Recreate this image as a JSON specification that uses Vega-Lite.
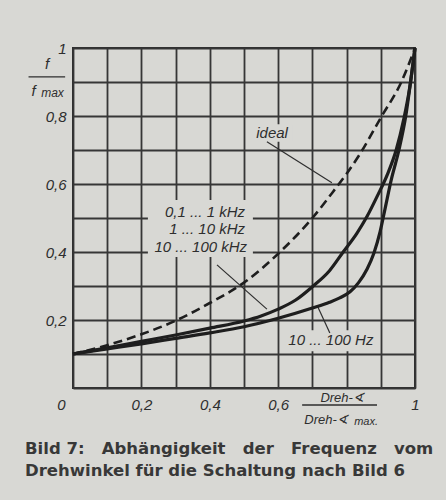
{
  "$schema": "https://vega.github.io/schema/vega-lite/v6.json",
  "autosize": {"type": "none"},
  "width": 342,
  "height": 340,
  "padding": {"left": 73, "top": 48, "right": 31, "bottom": 112},
  "background": "#d8d8d4",
  "config": {
    "view": {"stroke": "#2e2e2e", "strokeWidth": 2, "fill": "#d8d8d4"},
    "font": "Liberation Sans",
    "axis": {
      "grid": true, "gridColor": "#363636", "gridWidth": 1.8, "gridOpacity": 1,
      "ticks": false, "domain": false, "labelFont": "Liberation Sans", "labelFontStyle": "italic",
      "labelFontSize": 15, "labelColor": "#2e2e2e", "labelOverlap": false, "labelBound": false, "labelFlush": false, "title": null
    }
  },
  "title": {
    "text": ["Bild 7:\u00a0\u00a0 Abhängigkeit\u00a0\u00a0 der\u00a0\u00a0 Frequenz\u00a0\u00a0 vom", "Drehwinkel für die Schaltung nach Bild 6"],
    "orient": "bottom", "anchor": "start", "frame": "group", "font": "DejaVu Sans", "fontWeight": "bold",
    "fontSize": 16.5, "color": "#383838", "lineHeight": 22, "offset": 14, "dx": -48
  },
  "datasets": {
    "curves": [
      {"s": "ideal", "x": 0, "y": 0.1}, {"s": "ideal", "x": 0.1, "y": 0.126}, {"s": "ideal", "x": 0.2, "y": 0.158},
      {"s": "ideal", "x": 0.3, "y": 0.198}, {"s": "ideal", "x": 0.4, "y": 0.25}, {"s": "ideal", "x": 0.5, "y": 0.31},
      {"s": "ideal", "x": 0.6, "y": 0.395}, {"s": "ideal", "x": 0.7, "y": 0.5}, {"s": "ideal", "x": 0.77, "y": 0.59},
      {"s": "ideal", "x": 0.8, "y": 0.63}, {"s": "ideal", "x": 0.84, "y": 0.69}, {"s": "ideal", "x": 0.9, "y": 0.795},
      {"s": "ideal", "x": 0.96, "y": 0.9}, {"s": "ideal", "x": 1.0, "y": 1.0},
      {"s": "khz", "x": 0, "y": 0.1}, {"s": "khz", "x": 0.1, "y": 0.118}, {"s": "khz", "x": 0.2, "y": 0.137},
      {"s": "khz", "x": 0.3, "y": 0.156}, {"s": "khz", "x": 0.4, "y": 0.176}, {"s": "khz", "x": 0.5, "y": 0.197},
      {"s": "khz", "x": 0.55, "y": 0.212}, {"s": "khz", "x": 0.6, "y": 0.232}, {"s": "khz", "x": 0.65, "y": 0.258},
      {"s": "khz", "x": 0.7, "y": 0.298}, {"s": "khz", "x": 0.75, "y": 0.345}, {"s": "khz", "x": 0.79, "y": 0.4},
      {"s": "khz", "x": 0.83, "y": 0.455}, {"s": "khz", "x": 0.86, "y": 0.505}, {"s": "khz", "x": 0.89, "y": 0.565},
      {"s": "khz", "x": 0.92, "y": 0.63}, {"s": "khz", "x": 0.945, "y": 0.7}, {"s": "khz", "x": 0.967, "y": 0.79},
      {"s": "khz", "x": 0.984, "y": 0.88}, {"s": "khz", "x": 1.0, "y": 1.0},
      {"s": "hz", "x": 0, "y": 0.1}, {"s": "hz", "x": 0.1, "y": 0.115}, {"s": "hz", "x": 0.2, "y": 0.13},
      {"s": "hz", "x": 0.3, "y": 0.146}, {"s": "hz", "x": 0.4, "y": 0.162}, {"s": "hz", "x": 0.5, "y": 0.18},
      {"s": "hz", "x": 0.6, "y": 0.205}, {"s": "hz", "x": 0.7, "y": 0.235}, {"s": "hz", "x": 0.75, "y": 0.252},
      {"s": "hz", "x": 0.78, "y": 0.265}, {"s": "hz", "x": 0.81, "y": 0.283}, {"s": "hz", "x": 0.835, "y": 0.31},
      {"s": "hz", "x": 0.86, "y": 0.35}, {"s": "hz", "x": 0.88, "y": 0.397}, {"s": "hz", "x": 0.898, "y": 0.46},
      {"s": "hz", "x": 0.913, "y": 0.53}, {"s": "hz", "x": 0.93, "y": 0.61}, {"s": "hz", "x": 0.953, "y": 0.7},
      {"s": "hz", "x": 0.973, "y": 0.8}, {"s": "hz", "x": 0.987, "y": 0.9}, {"s": "hz", "x": 1.0, "y": 1.0}
    ],
    "boxes": [
      {"x": 0.219, "x2": 0.526, "y": 0.385, "y2": 0.553},
      {"x": 0.63, "x2": 0.885, "y": 0.108, "y2": 0.17},
      {"x": 0.518, "x2": 0.643, "y": 0.724, "y2": 0.776}
    ],
    "leaders": [
      {"id": "a", "x": 0.567, "y": 0.724}, {"id": "a", "x": 0.757, "y": 0.604},
      {"id": "b", "x": 0.421, "y": 0.362}, {"id": "b", "x": 0.567, "y": 0.232},
      {"id": "c", "x": 0.716, "y": 0.238}, {"id": "c", "x": 0.751, "y": 0.162}
    ],
    "fracs": [
      {"id": "f", "x": -0.13, "x2": -0.023, "y": 0.915},
      {"id": "d", "x": 0.67, "x2": 0.889, "y": -0.05}
    ],
    "rlabels": [
      {"t": "0,1 ...  1 kHz", "x": 0.503, "y": 0.518},
      {"t": "1 ... 10 kHz", "x": 0.503, "y": 0.468},
      {"t": "10 ... 100 kHz", "x": 0.509, "y": 0.415}
    ],
    "labels": [
      {"t": "ideal", "x": 0.582, "y": 0.75, "fs": 15},
      {"t": "10 ... 100 Hz", "x": 0.754, "y": 0.141, "fs": 15},
      {"t": "f", "x": -0.076, "y": 0.952, "fs": 15},
      {"t": "f", "x": -0.115, "y": 0.874, "fs": 15},
      {"t": "max", "x": -0.06, "y": 0.868, "fs": 12},
      {"t": "Dreh-∢", "x": 0.787, "y": -0.029, "fs": 13},
      {"t": "Dreh-∢", "x": 0.74, "y": -0.093, "fs": 13},
      {"t": "max.", "x": 0.857, "y": -0.1, "fs": 11}
    ]
  },
  "encoding": {
    "x": {
      "field": "x", "type": "quantitative",
      "scale": {"domain": [0, 1], "nice": false, "zero": false},
      "axis": {
        "values": [0, 0.1, 0.2, 0.3, 0.4, 0.5, 0.6, 0.7, 0.8, 0.9, 1],
        "labelPadding": 9,
        "labelOffset": {"condition": {"test": "datum.value == 0", "value": -12}, "value": 0},
        "labelExpr": "datum.value == 1 ? '1' : (datum.value == 0 ? '0' : ((datum.value == 0.2 || datum.value == 0.4 || datum.value == 0.6) ? replace(format(datum.value, '.1f'), '.', ',') : ''))"
      }
    },
    "y": {
      "field": "y", "type": "quantitative",
      "scale": {"domain": [0, 1], "nice": false, "zero": false},
      "axis": {
        "values": [0, 0.1, 0.2, 0.3, 0.4, 0.5, 0.6, 0.7, 0.8, 0.9, 1],
        "labelPadding": 7,
        "labelExpr": "datum.value == 1 ? '1' : ((datum.value == 0.2 || datum.value == 0.4 || datum.value == 0.6 || datum.value == 0.8) ? replace(format(datum.value, '.1f'), '.', ',') : '')"
      }
    }
  },
  "layer": [
    {
      "data": {"name": "boxes"},
      "mark": {"type": "rect", "fill": "#d8d8d4"},
      "encoding": {"x2": {"field": "x2"}, "y2": {"field": "y2"}}
    },
    {
      "data": {"name": "leaders"},
      "mark": {"type": "line", "color": "#2e2e2e", "strokeWidth": 1.2},
      "encoding": {"detail": {"field": "id"}}
    },
    {
      "data": {"name": "fracs"},
      "mark": {"type": "rule", "color": "#2e2e2e", "strokeWidth": 1.3},
      "encoding": {"x2": {"field": "x2"}}
    },
    {
      "data": {"name": "curves"},
      "transform": [{"filter": "datum.s == 'ideal'"}],
      "mark": {"type": "line", "color": "#1e1e1e", "strokeWidth": 2.6, "strokeDash": [9, 5], "interpolate": "monotone"}
    },
    {
      "data": {"name": "curves"},
      "transform": [{"filter": "datum.s != 'ideal'"}],
      "mark": {"type": "line", "color": "#1e1e1e", "strokeWidth": 3.2, "interpolate": "monotone"},
      "encoding": {"detail": {"field": "s"}}
    },
    {
      "data": {"name": "rlabels"},
      "mark": {"type": "text", "font": "Liberation Sans", "fontStyle": "italic", "color": "#2e2e2e", "baseline": "middle", "align": "right", "fontSize": 15},
      "encoding": {"text": {"field": "t"}}
    },
    {
      "data": {"name": "labels"},
      "mark": {"type": "text", "font": "Liberation Sans", "fontStyle": "italic", "color": "#2e2e2e", "baseline": "middle", "align": "center"},
      "encoding": {
        "text": {"field": "t"},
        "size": {"field": "fs", "type": "quantitative", "scale": null}
      }
    }
  ]
}
